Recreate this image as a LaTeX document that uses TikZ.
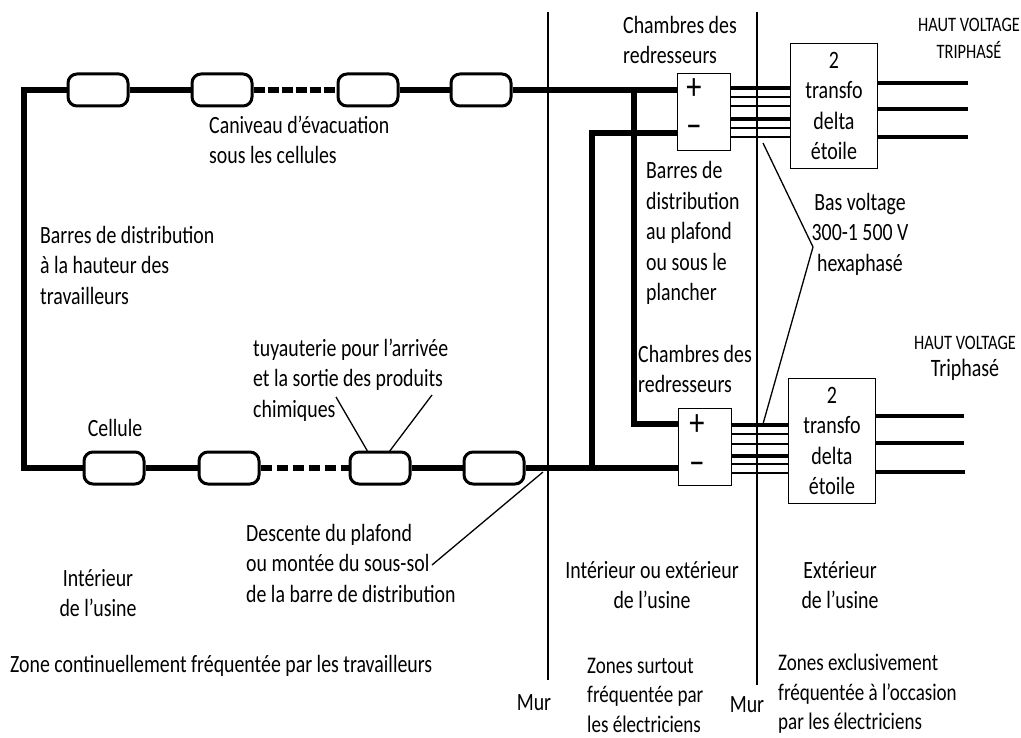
\documentclass[tikz,border=0pt]{standalone}
\usepackage{fontspec}
\setmainfont[FakeStretch=0.8]{Carlito}
\usepackage{tikz}
\tikzset{
  barre/.style={line width=5.5pt},
  mur/.style={line width=2.6pt},
  fil/.style={line width=2.6pt},
  filfort/.style={line width=3.6pt},
  sortie/.style={line width=3.2pt},
  renvoi/.style={line width=1.3pt},
  cellule/.style={draw, line width=3pt, rounded corners=9pt, minimum width=60pt, minimum height=32pt, fill=white, inner sep=0pt},
  redresseur/.style={draw, line width=1.8pt, minimum width=53pt, minimum height=77pt, inner sep=0pt, fill=white},
  transfo/.style={draw, line width=1.8pt, minimum width=87pt, minimum height=125pt, inner sep=0pt, fill=white, align=center, font=\fontsize{25}{30.5}\selectfont},
  texte/.style={inner sep=0pt, align=left, anchor=west, font=\fontsize{24.8}{30.5}\selectfont},
  centre/.style={inner sep=0pt, align=center, font=\fontsize{24.8}{30.5}\selectfont},
  bas/.style={inner sep=0pt, align=left, anchor=west, font=\fontsize{23.8}{29.5}\selectfont},
  petit/.style={inner sep=0pt, align=center, font=\fontsize{20.5}{27}\selectfont},
  signe/.style={inner sep=0pt, font=\fontsize{38}{38}\selectfont}
}
\begin{document}
\begin{tikzpicture}[x=1pt, y=-1pt]
  \useasboundingbox (0,0) rectangle (1021,738);
  % ------- walls -------
  \coordinate (mur1h) at (548,12);
  \coordinate (mur1b) at (548,680);
  \coordinate (mur2h) at (757,12);
  \coordinate (mur2b) at (757,685);
  \draw[mur] (mur1h) -- (mur1b);
  \draw[mur] (mur2h) -- (mur2b);
  % ------- cells -------
  \foreach \n/\x in {ch1/98,ch2/222,ch3/368,ch4/481}
    \node[cellule] (\n) at (\x,90) {};
  \foreach \n/\x in {cb1/114,cb2/229,cb3/380,cb4/494}
    \node[cellule] (\n) at (\x,468) {};
  % ------- rectifiers and transformers -------
  \node[redresseur] (redrH) at (704,112) {};
  \node[redresseur] (redrB) at (705,447) {};
  \node[transfo] (transH) at (834,106) {2\\transfo\\delta\\étoile};
  \node[transfo] (transB) at (832,441) {2\\transfo\\delta\\étoile};
  \node[signe] (plusH) at (694,89) {+};
  \node[signe] (moinsH) at (694,132) {\textminus};
  \node[signe] (plusB) at (697,425) {+};
  \node[signe] (moinsB) at (697,469) {\textminus};
  % ------- bus bars -------
  \coordinate (coinH) at (24,90);
  \coordinate (coinB) at (24,468);
  \coordinate (piqH) at (634,90);
  \coordinate (piqB) at (634,424);
  \coordinate (piqM) at (592,133);
  \coordinate (piqN) at (592,468);
  \draw[barre, line cap=rect] (ch1.west) -- (coinH) -- (coinB) -- (cb1.west);
  \draw[barre] (ch1) -- (ch2);
  \draw[barre] (ch3) -- (ch4);
  \draw[barre, dash pattern=on 11pt off 3pt] (ch2) -- (ch3);
  \draw[barre] (cb1) -- (cb2);
  \draw[barre, dash pattern=on 11pt off 5pt] (cb2) -- (cb3);
  \draw[barre] (cb3) -- (cb4);
  \draw[barre] (ch4) -- (redrH.west |- ch4);
  \draw[barre] (cb4) -- (redrB.west |- cb4);
  \draw[barre] (piqH) -- (piqB) -- (redrB.west |- piqB);
  \draw[barre] (redrH.west |- piqM) -- (piqM) -- (piqN);
  % ------- low voltage lines -------
  \foreach \y/\s in {88/filfort,97/fil,106/fil,119/filfort,128/fil,137/fil}
    \draw[\s] (redrH.east |- 0,\y) -- (transH.west |- 0,\y);
  \foreach \y/\s in {425/filfort,434/fil,444/fil,456/filfort,464/fil,473/fil}
    \draw[\s] (redrB.east |- 0,\y) -- (transB.west |- 0,\y);
  % ------- high voltage lines -------
  \foreach \y/\f in {83/968,109/968,137/968}
    \draw[sortie] (transH.east |- 0,\y) -- (\f,\y);
  \foreach \y/\f in {416/964,443/964,472/965}
    \draw[sortie] (transB.east |- 0,\y) -- (\f,\y);
  % ------- leaders -------
  \coordinate (basH) at (763,143);
  \coordinate (basP) at (813,247);
  \coordinate (basB) at (763,424);
  \draw[renvoi] (basH) -- (basP) -- (basB);
  \coordinate (tuyA) at (336,397);
  \coordinate (tuyB) at (432,395);
  \draw[renvoi] (tuyA) -- (368,452);
  \draw[renvoi] (tuyB) -- (389,452);
  \coordinate (desA) at (432,565);
  \coordinate (desB) at (543,472);
  \draw[renvoi] (desA) -- (desB);
  % ------- labels -------
  \node[texte] (lChH) at (623,40) {Chambres des\\redresseurs};
  \node[texte] (lChB) at (638,369) {Chambres des\\redresseurs};
  \node[petit] (lHvH) at (969,38) {HAUT VOLTAGE\\TRIPHASÉ};
  \node[petit] (lHvB) at (965,358) {HAUT VOLTAGE\\{\fontsize{25}{27}\selectfont Triphasé}};
  \node[texte] (lCan) at (209,140) {Caniveau d'évacuation\\sous les cellules};
  \node[texte] (lBar) at (40,265) {Barres de distribution\\à la hauteur des\\travailleurs};
  \node[texte] (lDis) at (646,233) {Barres de\\distribution\\au plafond\\ou sous le\\plancher};
  \node[centre] (lBas) at (860,234) {Bas voltage\\300-1 500 V\\hexaphasé};
  \node[texte] (lTuy) at (253,380) {tuyauterie pour l'arrivée\\et la sortie des produits\\chimiques};
  \node[centre] (lCel) at (115,428) {Cellule};
  \node[texte] (lDes) at (246,563) {Descente du plafond\\ou montée du sous-sol\\de la barre de distribution};
  \node[centre] (lInt) at (98,593) {Intérieur\\de l'usine};
  \node[centre] (lIou) at (652,585) {Intérieur ou extérieur\\de l'usine};
  \node[centre] (lExt) at (840,585) {Extérieur\\de l'usine};
  \node[texte] (lZn1) at (10,666) {Zone continuellement fréquentée par les travailleurs};
  \node[bas] (lZn2) at (587,695) {Zones surtout\\fréquentée par\\les électriciens};
  \node[bas] (lZn3) at (778,694) {Zones exclusivement\\fréquentée à l'occasion\\par les électriciens};
  \node[centre] (lMu1) at (534,703) {Mur};
  \node[centre] (lMu2) at (747,705) {Mur};
\end{tikzpicture}
\end{document}
